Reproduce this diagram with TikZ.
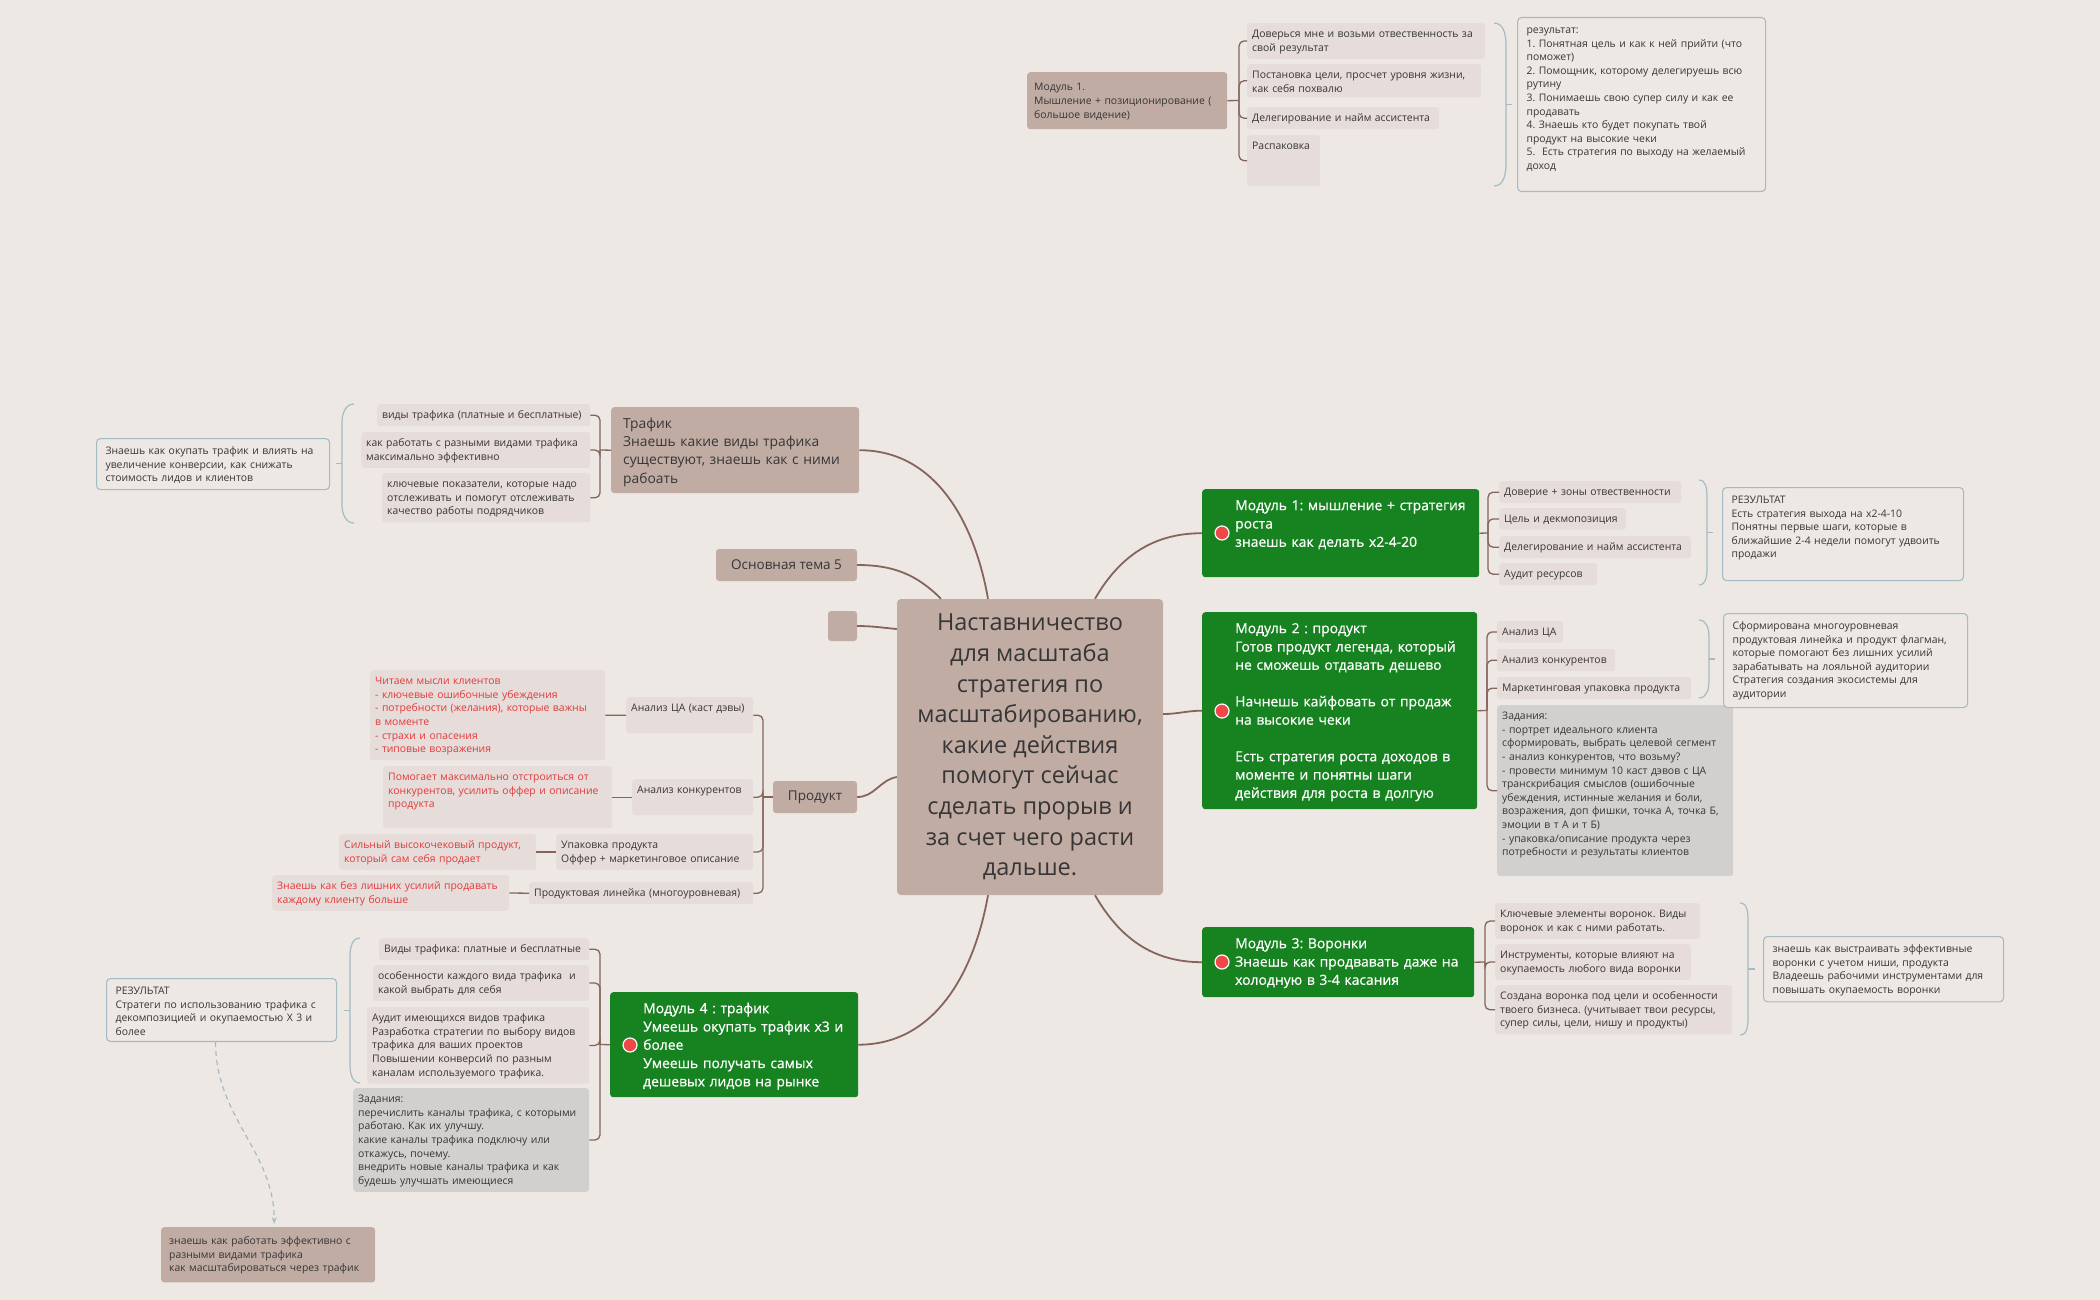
\documentclass[tikz,border=0pt]{standalone}
\usepackage{fontspec}
\setmainfont{Open Sans}
\newfontfamily\modfont[FakeBold=0.6]{Open Sans}
\frenchspacing
\usetikzlibrary{arrows.meta}
\definecolor{bg}{HTML}{EEE8E5}
\definecolor{topicbrown}{HTML}{C1ACA4}
\definecolor{subfill}{HTML}{E6DCD9}
\definecolor{modgreen}{HTML}{168220}
\definecolor{taskgrey}{HTML}{D2D0CF}
\definecolor{sumblue}{HTML}{A3BCC4}
\definecolor{branch}{HTML}{85655B}
\definecolor{notered}{HTML}{E23B3B}
\definecolor{dotred}{HTML}{F04848}
\definecolor{ink}{HTML}{363636}
\tikzset{
  root/.style={fill=topicbrown, rounded corners=4pt, text=ink, align=center, inner sep=0pt,
    minimum width=266pt, minimum height=296pt, font=\fontsize{23.5}{30.6}\selectfont},
  topic/.style={fill=topicbrown, rounded corners=3pt, text=ink, align=left, anchor=north west,
    inner xsep=12pt, inner ysep=8pt, text height=13pt, font=\fontsize{13.8}{18.3}\selectfont},
  topicc/.style={fill=topicbrown, rounded corners=3pt, text=ink, inner sep=0pt,
    font=\fontsize{13.5}{18.3}\selectfont},
  modbox/.style={fill=modgreen, rounded corners=3pt, text=white, align=left, anchor=north west,
    inner xsep=4pt, inner ysep=8pt, text height=13pt, font=\modfont\fontsize{13.9}{18.3}\selectfont},
  sub/.style={fill=subfill, rounded corners=3pt, text=ink, align=left, anchor=north west,
    inner xsep=5pt, inner ysep=5pt, text height=9.5pt, font=\fontsize{10.4}{13.6}\selectfont},
  note/.style={sub, text=notered},
  task/.style={sub, fill=taskgrey},
  res/.style={sub, draw=sumblue, line width=1.1pt, fill=bg, rounded corners=4pt,
    inner xsep=9pt, inner ysep=6pt, text height=10pt},
  reddot/.style={circle, fill=dotred, draw=white, line width=1.2pt, minimum size=14pt, inner sep=0pt},
  br/.style={draw=branch, line width=1.3pt, rounded corners=5pt},
  stem/.style={draw=branch, line width=1.8pt},
  sumline/.style={draw=sumblue, line width=1.2pt},
  dashline/.style={draw=sumblue, line width=1.2pt, dash pattern=on 5pt off 4pt,
    -{Stealth[length=7pt, width=5pt]}, shorten >=3pt},
}
\begin{document}
\begin{tikzpicture}[x=1pt, y=-1pt]
\path[use as bounding box, fill=bg] (0,0) rectangle (2100,1300);

\node[root] (root) at (1030,747) {Наставничество\\для масштаба\\стратегия по\\масштабированию,\\какие действия\\помогут сейчас\\сделать прорыв и\\за счет чего расти\\дальше.};

% floating topic at the top
\node[sub, fill=topicbrown, inner xsep=7pt, text width=186pt, minimum height=57pt, text height=9.5pt] (mod1top) at (1027,72) {Модуль 1.\\Мышление + позиционирование (\\большое видение)};
\node[sub, text width=228pt] (t1) at (1247,23) {Доверься мне и возьми отвественность за\\свой результат};
\node[sub, text width=224pt] (t2) at (1247,64) {Постановка цели, просчет уровня жизни,\\как себя похвалю};
\node[sub, text width=182pt] (t3) at (1247,107) {Делегирование и найм ассистента};
\node[sub, text width=63pt, text depth=31.5pt] (t4) at (1247,135) {Распаковка};
\node[res, text width=230pt, text depth=152pt] (res0) at (1517,17) {результат:\\1. Понятная цель и как к ней прийти (что\\поможет)\\2. Помощник, которому делегируешь всю\\рутину\\3. Понимаешь свою супер силу и как ее\\продавать\\4. Знаешь кто будет покупать твой\\продукт на высокие чеки\\5.~ Есть стратегия по выходу на желаемый\\доход};

% right side
\node[modbox, text width=269pt, text depth=59pt] (m1) at (1202,489) {\leftskip=29pt Модуль 1: мышление + стратегия\\роста\\знаешь как делать х2-4-20\par};
\node[reddot] (d1dot) at (1222,533) {};
\node[sub, text width=172pt] (a1) at (1499,481) {Доверие + зоны отвественности};
\node[sub, text width=117pt] (a2) at (1499,508) {Цель и декмопозиция};
\node[sub, text width=182pt] (a3) at (1499,536) {Делегирование и найм ассистента};
\node[sub, text width=88pt] (a4) at (1499,563) {Аудит ресурсов};
\node[res, text width=223pt, text depth=71pt] (res1) at (1722,487) {РЕЗУЛЬТАТ\\Есть стратегия выхода на х2-4-10\\Понятны первые шаги, которые в\\ближайшие 2-4 недели помогут удвоить\\продажи};

\node[modbox, text width=267pt, text depth=168pt] (m2) at (1202,612) {\leftskip=29pt Модуль 2 : продукт\\Готов продукт легенда, который\\не сможешь отдавать дешево\\[18.3pt]Начнешь кайфовать от продаж\\на высокие чеки\\[18.3pt]Есть стратегия роста доходов в\\моменте и понятны шаги\\действия для роста в долгую\par};
\node[reddot] (d2dot) at (1222,711) {};
\node[sub, text width=56pt] (b1) at (1497,621) {Анализ ЦА};
\node[sub, text width=108pt] (b2) at (1497,649) {Анализ конкурентов};
\node[sub, text width=184pt] (b3) at (1497,677) {Маркетинговая упаковка продукта};
\node[task, text width=226pt, text depth=151.5pt] (b4) at (1497,705) {Задания:\\- портрет идеального клиента\\сформировать, выбрать целевой сегмент\\- анализ конкурентов, что возьму?\\- провести минимум 10 каст дэвов с ЦА\\транскрибация смыслов (ошибочные\\убеждения, истинные желания и боли,\\возражения, доп фишки, точка А, точка Б,\\эмоции в т А и т Б)\\- упаковка/описание продукта через\\потребности и результаты клиентов};
\node[res, text width=226pt, text depth=72pt] (res2) at (1723,613) {Сформирована многоуровневая\\продуктовая линейка и продукт флагман,\\которые помогают без лишних усилий\\зарабатывать на лояльной аудитории\\Стратегия создания экосистемы для\\аудитории};

\node[modbox, text width=264pt, text depth=41pt] (m3) at (1202,927) {\leftskip=29pt Модуль 3: Воронки\\Знаешь как продвавать даже на\\холодную в 3-4 касания\par};
\node[reddot] (d3dot) at (1222,962) {};
\node[sub, text width=195pt] (c1) at (1495,903) {Ключевые элементы воронок. Виды\\воронок и как с ними работать.};
\node[sub, text width=186pt] (c2) at (1495,944) {Инструменты, которые влияют на\\окупаемость любого вида воронки};
\node[sub, text width=227pt] (c3) at (1495,985) {Создана воронка под цели и особенности\\твоего бизнеса. (учитывает твои ресурсы,\\супер силы, цели, нишу и продукты)};
\node[res, text width=222pt] (res3) at (1763,936) {знаешь как выстраивать эффективные\\воронки с учетом ниши, продукта\\Владеешь рабочими инструментами для\\повышать окупаемость воронки};

% left side
\node[topic, text width=224pt, text depth=57pt] (traf) at (611,407) {Трафик\\Знаешь какие виды трафика\\существуют, знаешь как с ними\\рабоать};
\node[sub, text width=203pt] (e1) at (377,404) {виды трафика (платные и бесплатные)};
\node[sub, text width=219pt] (e2) at (361,432) {как работать с разными видами трафика\\максимально эффективно};
\node[sub, text width=198pt] (e3) at (382,473) {ключевые показатели, которые надо\\отслеживать и помогут отслеживать\\качество работы подрядчиков};
\node[res, text width=215pt] (res5) at (96,438) {Знаешь как окупать трафик и влиять на\\увеличение конверсии, как снижать\\стоимость лидов и клиентов};

\node[topicc, minimum width=141pt, minimum height=32pt] (t5) at (786.5,565) {Основная тема 5};
\node[topicc, minimum width=29pt, minimum height=30pt] (blank) at (842.5,626) {};

\node[topicc, minimum width=84pt, minimum height=32pt] (prod) at (815,797) {Продукт};
\node[sub, text width=117pt, text depth=16.5pt] (p1) at (626,697) {Анализ ЦА (каст дэвы)};
\node[sub, text width=111pt, text depth=16.5pt] (p2) at (632,779) {Анализ конкурентов};
\node[sub, text width=187pt] (p3) at (556,834) {Упаковка продукта\\Оффер + маркетинговое описание};
\node[sub, text width=214pt] (p4) at (529,882) {Продуктовая линейка (многоуровневая)};
\node[note, text width=225pt] (r1) at (370,670) {Читаем мысли клиентов\\- ключевые ошибочные убеждения\\- потребности (желания), которые важны\\в моменте\\- страхи и опасения\\- типовые возражения};
\node[note, text width=219pt, text depth=42.5pt] (r2) at (383,766) {Помогает максимально отстроиться от\\конкурентов, усилить оффер и описание\\продукта};
\node[note, text width=187pt] (r3) at (339,834) {Сильный высокочековый продукт,\\который сам себя продает};
\node[note, text width=227pt] (r4) at (272,875) {Знаешь как без лишних усилий продавать\\каждому клиенту больше};

\node[modbox, text width=240pt, text depth=76pt] (m4) at (610,992) {\leftskip=29pt Модуль 4 : трафик\\Умеешь окупать трафик х3 и\\более\\Умеешь получать самых\\дешевых лидов на рынке\par};
\node[reddot] (d4dot) at (630,1045) {};
\node[sub, text width=200pt] (g1) at (379,938) {Виды трафика: платные и бесплатные};
\node[sub, text width=206pt] (g2) at (373,965) {особенности каждого вида трафика~ и\\какой выбрать для себя};
\node[sub, text width=212pt] (g3) at (367,1007) {Аудит имеющихся видов трафика\\Разработка стратегии по выбору видов\\трафика для ваших проектов\\Повышении конверсий по разным\\каналам используемого трафика.};
\node[task, text width=226pt] (g4) at (353,1088) {Задания:\\перечислить каналы трафика, с которыми\\работаю. Как их улучшу.\\какие каналы трафика подключу или\\откажусь, почему.\\внедрить новые каналы трафика и как\\будешь улучшать имеющиеся};
\node[res, text width=212pt] (res4) at (106,978) {РЕЗУЛЬТАТ\\Стратеги по использованию трафика с\\декомпозицией и окупаемостью Х 3 и\\более};
\node[sub, fill=topicbrown, inner xsep=8pt, inner ysep=8pt, text width=198pt] (fin) at (161,1227) {знаешь как работать эффективно с\\разными видами трафика\\как масштабироваться через трафик};

% main branches
\draw[stem] ([xshift=-42pt]root.north) to[out=100,in=0] (traf.east);
\draw[stem] ([xshift=-89pt]root.north) to[out=135,in=0] (t5.east);
\draw[stem] ([yshift=118pt]root.west) to[out=175,in=0] (blank.east);
\draw[stem] ([yshift=-30pt]root.west) to[out=190,in=0] (prod.east);
\draw[stem] ([xshift=-42pt]root.south) to[out=-100,in=0] (m4.east);
\draw[stem] ([xshift=65pt]root.north) to[out=60,in=180] (m1.west);
\draw[stem] ([yshift=33pt]root.east) to[out=0,in=180] (m2.west);
\draw[stem] ([xshift=65pt]root.south) to[out=-60,in=180] (m3.west);

% brackets
\coordinate (j0) at (1239,100.5);
\coordinate (j1) at (1488,533);
\coordinate (j2) at (1487,710.5);
\coordinate (j3) at (1485,962);
\coordinate (j4) at (600,1044.5);
\coordinate (j5) at (600,450);
\coordinate (j6) at (763,797);
\draw[br] (mod1top.east) -- (j0);
\foreach \n in {t1,t2,t3,t4} \draw[br] (j0) |- (\n.west);
\draw[br] (m1.east) -- (j1);
\foreach \n in {a1,a2,a3,a4} \draw[br] (j1) |- (\n.west);
\draw[br] (m2.east) -- (j2);
\foreach \n in {b1,b2,b3,b4} \draw[br] (j2) |- (\n.west);
\draw[br] (m3.east) -- (j3);
\foreach \n in {c1,c2,c3} \draw[br] (j3) |- (\n.west);
\draw[br] (m4.west) -- (j4);
\foreach \n in {g1,g2,g3,g4} \draw[br] (j4) |- (\n.east);
\draw[br] (traf.west) -- (j5);
\foreach \n in {e1,e2,e3} \draw[br] (j5) |- (\n.east);
\draw[br] (prod.west) -- (j6);
\foreach \n in {p1,p2,p3,p4} \draw[br] (j6) |- (\n.east);
\draw[br] (r1.east) -- (p1.west);
\draw[br] (r2.east) -- (p2.west);
\draw[br] (r3.east) -- (p3.west);
\draw[br] (r4.east) -- (p4.west);

% summary braces
\draw[sumline] (1494,23) to[out=0,in=90] (1506,45) -- (1506,164) to[out=-90,in=0] (1494,186);
\draw[sumline] (1506,104.5) -- (1512,104.5);
\draw[sumline] (1699,480) to[out=0,in=90] (1707,496) -- (1707,569) to[out=-90,in=0] (1699,585);
\draw[sumline] (1707,532.5) -- (1713,532.5);
\draw[sumline] (1699,620) to[out=0,in=90] (1709,636) -- (1709,682) to[out=-90,in=0] (1699,698);
\draw[sumline] (1709,659) -- (1715,659);
\draw[sumline] (1740,903) to[out=0,in=90] (1748,921) -- (1748,1017) to[out=-90,in=0] (1740,1035);
\draw[sumline] (1748,969) -- (1755,969);
\draw[sumline] (354,404) to[out=180,in=90] (342,422) -- (342,505) to[out=-90,in=180] (354,523);
\draw[sumline] (342,463.5) -- (336,463.5);
\draw[sumline] (360,938) to[out=180,in=90] (350,956) -- (350,1065) to[out=-90,in=180] (360,1083);
\draw[sumline] (350,1010.5) -- (344,1010.5);

\draw[dashline] ([xshift=-6pt]res4.south) to[out=-90,in=90] ([xshift=6pt]fin.north);
\end{tikzpicture}
\end{document}
